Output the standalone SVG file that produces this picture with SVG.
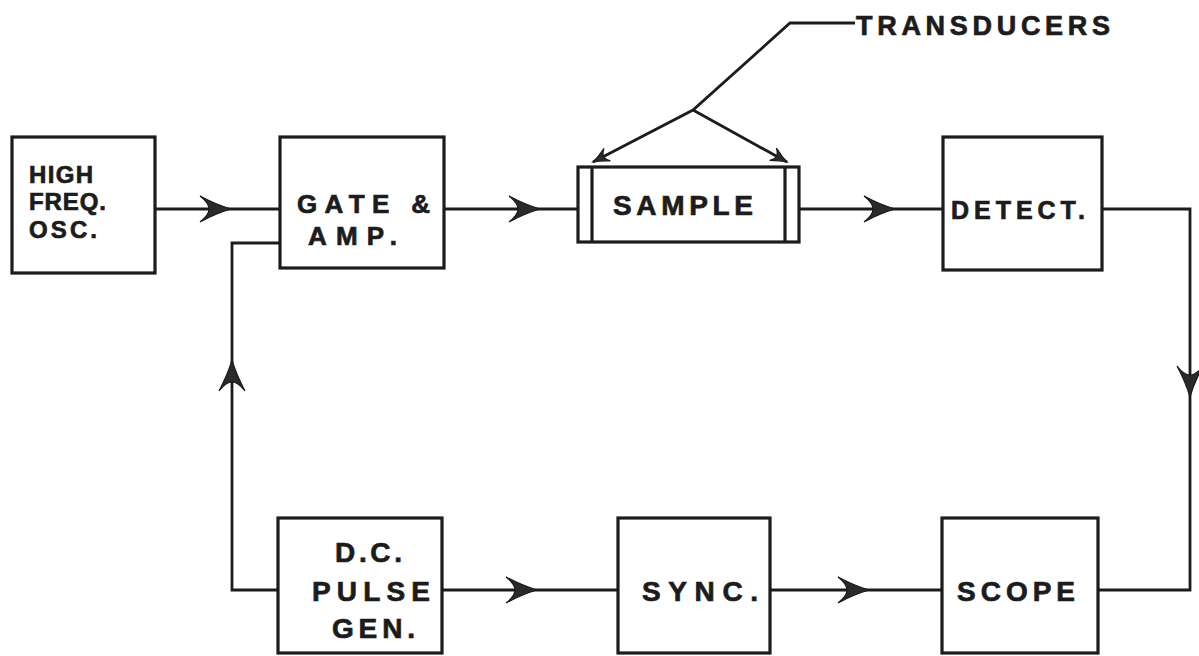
<svg xmlns="http://www.w3.org/2000/svg" width="1199" height="656" viewBox="0 0 1199 656">
<style>
.box{fill:none;stroke:#1c1c1c;stroke-width:3.2}
.ln{fill:none;stroke:#1c1c1c;stroke-width:2.8;stroke-linejoin:miter}
.t{font-family:"Liberation Sans",Arial,sans-serif;font-weight:bold;fill:#1c1c1c;stroke:#1c1c1c;stroke-width:0.7}
.ah{fill:#2a2a2a;stroke:#1c1c1c;stroke-width:1.2}
</style>
<defs>
<path id="ah" d="M0,0 Q-14,-4 -31,-13 Q-22,-6 -22,0 Q-22,6 -31,13 Q-14,4 0,0 Z"/>
<path id="ahs" d="M0,0 Q-7,-2 -16,-7 Q-12,-3 -12,0 Q-12,3 -16,7 Q-7,2 0,0 Z"/>
</defs>
<rect width="1199" height="656" fill="#ffffff"/>
<g id="connectors">
<path class="ln" d="M155,209 H280"/>
<path class="ln" d="M444,209 H578"/>
<path class="ln" d="M799,209 H943"/>
<path class="ln" d="M1102,209 H1190 V590 H1098"/>
<path class="ln" d="M442,590 H618"/>
<path class="ln" d="M770,590 H942"/>
<path class="ln" d="M278,590 H232 V243 H280"/>
<path class="ln" d="M855,23 H790 L693,110 L593,162 M693,110 L787,162"/>
<use href="#ah" class="ah" transform="translate(231,209)"/>
<use href="#ah" class="ah" transform="translate(540,209)"/>
<use href="#ah" class="ah" transform="translate(895,209)"/>
<use href="#ah" class="ah" transform="translate(1190,397) rotate(90)"/>
<use href="#ah" class="ah" transform="translate(537,590)"/>
<use href="#ah" class="ah" transform="translate(869,590)"/>
<use href="#ah" class="ah" transform="translate(232,360) rotate(-90)"/>
<use href="#ahs" class="ah" transform="translate(593,162) rotate(152.5)"/>
<use href="#ahs" class="ah" transform="translate(787,162) rotate(29)"/>
</g>
<g id="transducers-label">
<text class="t" x="856" y="35" font-size="27" textLength="254" lengthAdjust="spacing">TRANSDUCERS</text>
</g>
<g id="high-freq-osc">
<rect class="box" x="12" y="137" width="143" height="136"/>
<text class="t" x="29" y="183" font-size="24" textLength="64" lengthAdjust="spacing">HIGH</text>
<text class="t" x="29" y="210" font-size="24" textLength="77" lengthAdjust="spacing">FREQ.</text>
<text class="t" x="29" y="238" font-size="24" textLength="68" lengthAdjust="spacing">OSC.</text>
</g>
<g id="gate-amp">
<rect class="box" x="280" y="137" width="164" height="131"/>
<text class="t" x="297" y="213" font-size="26" textLength="133" lengthAdjust="spacing">GATE &amp;</text>
<text class="t" x="308" y="245" font-size="26" textLength="89" lengthAdjust="spacing">AMP.</text>
</g>
<g id="sample">
<rect class="box" x="578" y="167" width="221" height="75"/>
<path class="box" d="M592,167 V242 M785,167 V242"/>
<text class="t" x="613" y="215" font-size="28" textLength="140" lengthAdjust="spacing">SAMPLE</text>
</g>
<g id="detect">
<rect class="box" x="943" y="137" width="159" height="133"/>
<text class="t" x="951" y="219" font-size="25" textLength="134" lengthAdjust="spacing">DETECT.</text>
</g>
<g id="dc-pulse-gen">
<rect class="box" x="278" y="518" width="164" height="135"/>
<text class="t" x="335" y="562" font-size="28" textLength="67" lengthAdjust="spacing">D.C.</text>
<text class="t" x="312" y="601" font-size="28" textLength="118" lengthAdjust="spacing">PULSE</text>
<text class="t" x="332" y="638" font-size="28" textLength="83" lengthAdjust="spacing">GEN.</text>
</g>
<g id="sync">
<rect class="box" x="618" y="518" width="152" height="135"/>
<text class="t" x="642" y="601" font-size="28" textLength="116" lengthAdjust="spacing">SYNC.</text>
</g>
<g id="scope">
<rect class="box" x="942" y="518" width="156" height="135"/>
<text class="t" x="957" y="601" font-size="28" textLength="118" lengthAdjust="spacing">SCOPE</text>
</g>
</svg>
